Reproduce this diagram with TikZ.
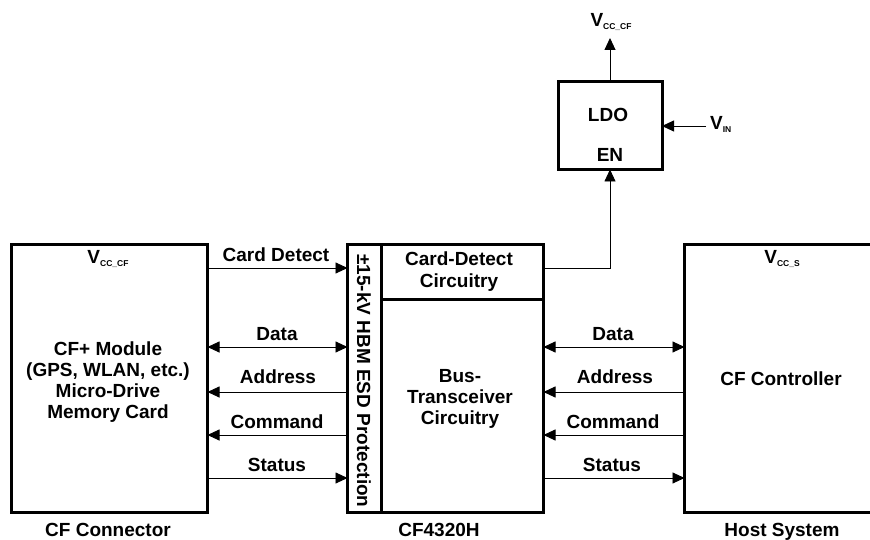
\documentclass[tikz,border=0pt]{standalone}
\usepackage{fontspec}
\setmainfont{Liberation Sans}
\usetikzlibrary{arrows.meta}
\newcommand\Vsub[1]{V\raisebox{-3pt}{\fontsize{8.5}{8.5}\selectfont #1}}
\begin{document}
\begin{tikzpicture}[x=1pt,y=-1pt,
  box/.style={draw, line width=3pt, inner sep=0pt, outer sep=0pt, anchor=north west},
  lbl/.style={font=\fontsize{19}{21}\selectfont\bfseries, inner sep=0pt, anchor=base, align=center},
  arr/.style={line width=0.9pt, -{Triangle[length=12pt,width=11pt]}},
  biarr/.style={line width=0.9pt, {Triangle[length=12pt,width=11pt]}-{Triangle[length=12pt,width=11pt]}}]
\clip (0,0) rectangle (870,540);
% boxes
\node[box, minimum width=196pt, minimum height=268pt] (cf) at (11.5,244.5) {};
\node[box, minimum width=34pt, minimum height=268pt] (esd) at (347.5,244.5) {};
\node[box, minimum width=162pt, minimum height=55pt] (cdc) at (381.5,244.5) {};
\node[box, minimum width=162pt, minimum height=213pt] (btc) at (381.5,299.5) {};
\node[box, minimum width=200pt, minimum height=268pt] (host) at (684.5,244.5) {};
\node[box, minimum width=104pt, minimum height=88pt] (ldo) at (558,81.5) {};
% texts in boxes
\node[lbl] (cfv) at (108,263) {\Vsub{CC\_CF}};
\node[lbl] (cft) at (108,418) {CF+ Module\\(GPS, WLAN, etc.)\\Micro-Drive\\Memory Card};
\node[lbl, rotate=-90] (esdt) at (357,381) {±15-kV HBM ESD Protection};
\node[lbl] (cdct) at (459,287) {Card-Detect\\Circuitry};
\node[lbl] (btct) at (460,424) {Bus-\\Transceiver\\Circuitry};
\node[lbl] (hostv) at (782,263) {\Vsub{CC\_S}};
\node[lbl] (hostt) at (781,385) {CF Controller};
\node[lbl] (ldot) at (608,122) {LDO};
\node[lbl] (ent) at (610,162) {EN};
\node[lbl] (vtop) at (611,27) {\Vsub{CC\_CF}};
\node[lbl, anchor=base west] (vint) at (710,130) {\Vsub{IN}};
% captions
\node[lbl] (cap1) at (108,536.5) {CF Connector};
\node[lbl] (cap2) at (439,536.5) {CF4320H};
\node[lbl] (cap3) at (782,536) {Host System};
% left connectors
\draw[arr] (cf.east |- 0,268) -- (esd.west |- 0,268);
\draw[biarr] (cf.east |- 0,347) -- (esd.west |- 0,347);
\draw[arr] (esd.west |- 0,392) -- (cf.east |- 0,392);
\draw[arr] (esd.west |- 0,435) -- (cf.east |- 0,435);
\draw[arr] (cf.east |- 0,478) -- (esd.west |- 0,478);
\node[lbl] (l1) at (276,261) {Card Detect};
\node[lbl] (l2) at (277,340) {Data};
\node[lbl] (l3) at (278,383) {Address};
\node[lbl] (l4) at (277,428) {Command};
\node[lbl] (l5) at (277,471) {Status};
% right connectors
\draw[biarr] (btc.east |- 0,347) -- (host.west |- 0,347);
\draw[arr] (host.west |- 0,392) -- (btc.east |- 0,392);
\draw[arr] (host.west |- 0,435) -- (btc.east |- 0,435);
\draw[arr] (btc.east |- 0,478) -- (host.west |- 0,478);
\node[lbl] (r2) at (613,340) {Data};
\node[lbl] (r3) at (615,383) {Address};
\node[lbl] (r4) at (613,428) {Command};
\node[lbl] (r5) at (612,471) {Status};
% LDO connectors
\coordinate (vout) at (610,38);
\coordinate (vin) at (706,126);
\draw[arr] (cdc.east |- 0,268) -| (ldo.south);
\draw[arr] (ldo.north) -- (vout);
\draw[arr] (vin) -- (ldo.east |- vin);
\end{tikzpicture}
\end{document}
